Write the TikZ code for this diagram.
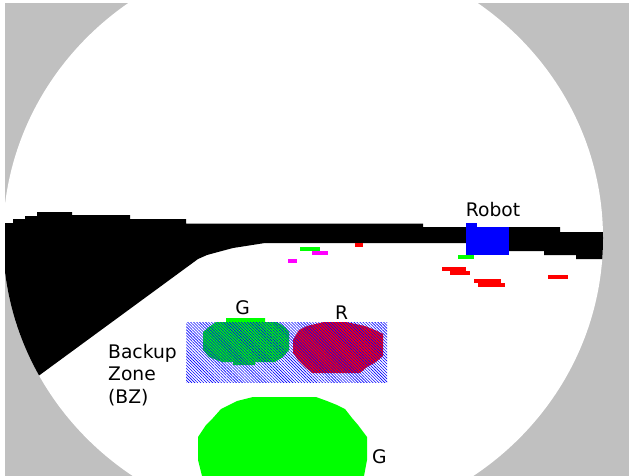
\documentclass[tikz,border=0pt]{standalone}
\usepackage{fontspec}
\setmainfont{DejaVu Sans}
\usetikzlibrary{patterns.meta}
\definecolor{wallc}{HTML}{C0C0C0}
\definecolor{goalg}{HTML}{00FF00}
\definecolor{goalr}{HTML}{FF0000}
\definecolor{botc}{HTML}{0000FF}
\definecolor{markm}{HTML}{FF00FF}
\tikzset{
  lbl/.style={font=\fontsize{18.7}{22.5}\selectfont,inner sep=0pt},
  bz/.style={pattern={Lines[angle=-45,distance=2.1pt,line width=0.6pt]},pattern color=blue},
  fov/.style={x radius=300,y radius=289}
}

\begin{document}
\begin{tikzpicture}[x=1pt,y=-1pt]
\useasboundingbox (0,0) rectangle (629,476);
\fill[wallc] (5,3) rectangle (629,476);
\fill[white] (303,238) ellipse [fov];
% obstacle band, cut to the field of view
\begin{scope}
\clip (303,238) ellipse [fov];
\clip (5,0) rectangle (629,476);
\fill[black] (0,223) -- (13,223) -- (13,219) -- (25,219) -- (25,216) -- (37,216)
  -- (37,212) -- (72,212) -- (72,215) -- (130,215) -- (130,219) -- (186,219)
  -- (186,223.5) -- (423,223.5) -- (423,227) -- (560,227) -- (560,232) -- (620,232)
  -- (620,259) -- (576,259) -- (576,255) -- (544,255) -- (544,251) -- (466,251)
  -- (466,243) -- (265,243) -- (233,248) -- (218,252) -- (207,255) -- (198,259)
  -- (37,377) -- (0,377) -- cycle;
\end{scope}
% robot
\fill[botc] (466,223) rectangle (477,227);
\fill[botc] (466,227) rectangle (509,255);
% detections
\fill[goalg] (300,247) rectangle (320,251);
\fill[goalg] (458,255) rectangle (474,259);
\fill[markm] (312,251) rectangle (328,255);
\fill[markm] (288,259) rectangle (297,263);
\foreach \xa/\ya/\xb/\yb in {355/243/363/247,442/267/466/271,450/271/470/275,
  474/279/501/283,478/283/505/287,548/275/568/279}
  \fill[goalr] (\xa,\ya) rectangle (\xb,\yb);
% backup zone
\fill[goalg] (226,318) -- (265,318) -- (265,322) -- (277,322) -- (285,327) -- (289,332)
  -- (289,350) -- (283,357) -- (275,362) -- (255,362) -- (255,365) -- (233,365)
  -- (233,362) -- (222,362) -- (209,357) -- (203,350) -- (203,332) -- (209,327)
  -- (216,322) -- (226,322) -- cycle;
\fill[goalr] (324,322) -- (346,322) -- (365,326) -- (375,330) -- (383,334) -- (383,356)
  -- (376,362) -- (367,367) -- (360,373) -- (312,373) -- (305,367) -- (298,360)
  -- (293,353) -- (293,340) -- (299,330) -- (307,326) -- cycle;
\fill[bz] (186,322) rectangle (387,382);
% big goal
\fill[goalg] (253,397) -- (316,397) -- (327,401) -- (337,405) -- (345,409) -- (352,418)
  -- (358,425) -- (367,437) -- (367,460) -- (364,476) -- (202,476) -- (198,460)
  -- (198,437) -- (206,425) -- (213,418) -- (221,409) -- (229,405) -- (237,401) -- cycle;
% labels
\node[lbl,anchor=base] (robotlbl) at (493,216) {Robot};
\node[lbl,anchor=base] (glbl) at (242.5,314) {G};
\node[lbl,anchor=base] (rlbl) at (341.5,319) {R};
\node[lbl,anchor=base west,align=left] (bzlbl) at (108,403) {Backup\\Zone\\(BZ)};
\node[lbl,anchor=base west] (glbl2) at (372,463) {G};
\end{tikzpicture}
\end{document}
